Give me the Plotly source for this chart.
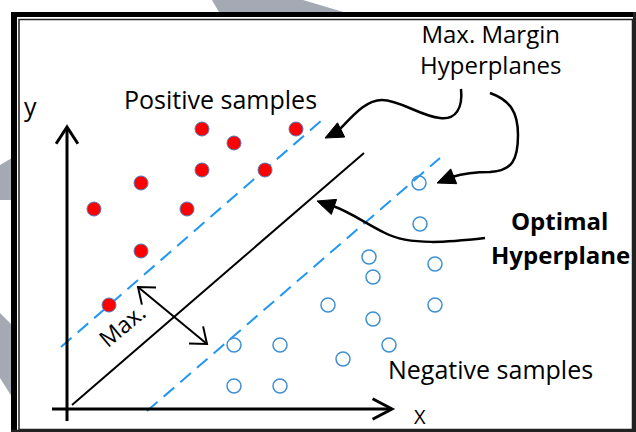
import math
import plotly.graph_objects as go

# ---- data (diagram coordinates, y grows downward) ----
pos_x = [202, 234, 296, 202, 265, 141, 94, 187, 141, 109]
pos_y = [129, 143, 129, 170, 170, 183, 209, 209, 251, 305]

neg_x = [419, 420, 369, 435, 373, 328, 435, 373, 389, 343, 234, 280, 234, 280]
neg_y = [183, 224, 257, 264, 277, 305, 305, 319, 345, 359, 345, 345, 386, 386]

opt_x = [72, 364]
opt_y = [405, 153]
upper_x = [61, 322]
upper_y = [347, 120]
lower_x = [147, 440]
lower_y = [411, 158]

W, H = 636, 432
FONT = "Open Sans"

fig = go.Figure()

# margin hyperplanes (dashed)
for xs, ys in [(upper_x, upper_y), (lower_x, lower_y)]:
    fig.add_trace(go.Scatter(x=xs, y=ys, mode="lines",
                             line=dict(color="#2196f3", width=2, dash="14px,8px"),
                             hoverinfo="skip"))
# optimal hyperplane
fig.add_trace(go.Scatter(x=opt_x, y=opt_y, mode="lines",
                         line=dict(color="black", width=2), hoverinfo="skip"))

# samples
fig.add_trace(go.Scatter(x=pos_x, y=pos_y, mode="markers",
                         marker=dict(size=14, color="#ff0000",
                                     line=dict(color="#4a7fc0", width=1)),
                         hoverinfo="skip"))
fig.add_trace(go.Scatter(x=neg_x, y=neg_y, mode="markers",
                         marker=dict(size=14, color="rgba(0,0,0,0)",
                                     line=dict(color="#3f8fd2", width=1.5)),
                         hoverinfo="skip"))

shapes = []

# watermark bits outside frame
grey = "#a4a9b3"
for p in ["M 212 0 L 303 0 L 350 14 L 220 14 Z",
          "M 0 165 L 12 158 L 12 200 L 0 200 Z",
          "M 0 313 L 12 325 L 12 397 L 0 378 Z"]:
    shapes.append(dict(type="path", path=p, fillcolor=grey, line=dict(width=0), layer="below"))

# frame
shapes.append(dict(type="line", x0=11, x1=W, y0=14.5, y1=14.5, line=dict(color="black", width=5)))
shapes.append(dict(type="line", x0=14, x1=14, y0=12, y1=H, line=dict(color="black", width=6)))
shapes.append(dict(type="rect", x0=19, x1=632.5, y0=19.5, y1=429.5, line=dict(color="#222", width=1.5)))
shapes.append(dict(type="line", x0=634.5, x1=634.5, y0=12, y1=H, line=dict(color="#222", width=3)))
shapes.append(dict(type="line", x0=11, x1=W, y0=431, y1=431, line=dict(color="#222", width=2.5)))


def chevron(tx, ty, dx, dy, length=18, ang=35, width=2.5):
    n = math.hypot(dx, dy)
    ux, uy = dx / n, dy / n
    pts = []
    for s in (1, -1):
        a = math.radians(ang) * s
        bx = -(ux * math.cos(a) - uy * math.sin(a))
        by = -(ux * math.sin(a) + uy * math.cos(a))
        pts.append((tx + bx * length, ty + by * length))
    path = f"M {pts[0][0]:.1f} {pts[0][1]:.1f} L {tx} {ty} L {pts[1][0]:.1f} {pts[1][1]:.1f}"
    return dict(type="path", path=path, line=dict(color="black", width=width))


def head(tx, ty, dx, dy, length=18, half=8):
    n = math.hypot(dx, dy)
    ux, uy = dx / n, dy / n
    bx, by = tx - ux * length, ty - uy * length
    px, py = -uy, ux
    path = (f"M {tx} {ty} L {bx + px * half:.1f} {by + py * half:.1f} "
            f"L {bx - px * half:.1f} {by - py * half:.1f} Z")
    return dict(type="path", path=path, fillcolor="black", line=dict(color="black", width=1))


# axes arrows
shapes.append(dict(type="line", x0=67, x1=67, y0=421, y1=128, line=dict(color="black", width=3)))
shapes.append(chevron(67, 127, 0, -1, length=20, ang=33, width=3))
shapes.append(dict(type="line", x0=52, x1=391, y0=409, y1=409, line=dict(color="black", width=3)))
shapes.append(chevron(392, 409, 1, 0, length=22, ang=28, width=3))

# Max. double arrow
shapes.append(dict(type="line", x0=138, x1=207, y0=287, y1=344, line=dict(color="black", width=2)))
shapes.append(chevron(138, 287, -69, -57, length=18, ang=38, width=2))
shapes.append(chevron(207, 344, 69, 57, length=18, ang=38, width=2))

# curved arrows
curve = dict(color="black", width=2.5)
shapes.append(dict(type="path", line=curve,
                   path="M 461 89 C 463 108, 456 120, 440 118 C 420 116, 400 100, 382 100 "
                        "C 365 100, 352 117, 338 131"))
shapes.append(head(325, 138, -1, 0.5))
shapes.append(dict(type="path", line=curve,
                   path="M 490 93 C 510 100, 518 112, 518 135 C 518 160, 512 171, 490 172 "
                        "C 475 172, 465 173, 452 177"))
shapes.append(head(437, 183, -1, 0.4))
shapes.append(dict(type="path", line=curve,
                   path="M 485 238 C 450 242, 410 246, 385 233 C 365 223, 350 212, 333 206"))
shapes.append(head(317, 201, -1, -0.35))

ann = []


def text(t, x, y, size=25, xanchor="center", bold=False, angle=0):
    ann.append(dict(x=x, y=y, text=f"<b>{t}</b>" if bold else t, showarrow=False,
                    xanchor=xanchor, yanchor="middle", textangle=angle, align="center",
                    font=dict(family=FONT, size=size, color="black")))


text("Max. Margin<br>Hyperplanes", 490, 49, size=24)
text("Positive samples", 220, 99)
text("y", 30, 106)
text("Optimal", 559, 220, size=24, bold=True)
text("Hyperplane", 632, 254, size=24, bold=True, xanchor="right")
text("Negative samples", 490, 369)
text("X", 420, 416, size=20)
text("Max.", 122, 325, size=23, angle=-40)

fig.update_layout(
    width=W, height=H, margin=dict(l=0, r=0, t=0, b=0),
    paper_bgcolor="white", plot_bgcolor="white", showlegend=False,
    xaxis=dict(range=[0, W], visible=False, fixedrange=True),
    yaxis=dict(range=[H, 0], visible=False, fixedrange=True),
    shapes=shapes, annotations=ann, hovermode=False,
)

fig.write_html("out.html", config={"displayModeBar": False},
               post_script="document.body.style.margin='0';document.body.style.overflow='hidden';")
